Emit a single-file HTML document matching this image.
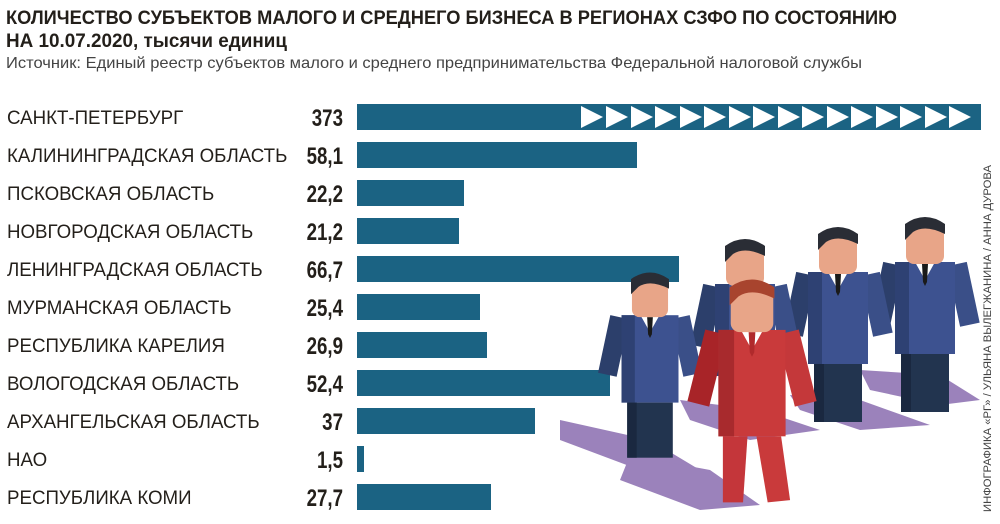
<!DOCTYPE html>
<html><head><meta charset="utf-8"><style>
body{margin:0;width:1000px;height:519px;background:#fff;overflow:hidden;font-family:"Liberation Sans",sans-serif;}
</style></head><body>
<svg width="1000" height="519" viewBox="0 0 1000 519" xmlns="http://www.w3.org/2000/svg">
<defs>
<g id="man">
 <rect x="-42" y="18" width="20" height="62" fill="#2c3f6b" transform="rotate(12 -32 18)"/>
 <rect x="22" y="18" width="20" height="62" fill="#3a4f88" transform="rotate(-12 32 18)"/>
 <rect x="-30" y="16" width="60" height="92" fill="#3d5290"/>
 <rect x="-30" y="16" width="14" height="92" fill="#2e4173"/>
 <polygon points="-10,16 10,16 0,34" fill="#fff"/>
 <polygon points="-3,18 3,18 2,36 0,40 -2,36" fill="#1a1a1a"/>
 <rect x="-24" y="108" width="48" height="58" fill="#22344f"/>
 <rect x="-24" y="108" width="10" height="58" fill="#1a2840"/>
 <rect x="-19" y="-22" width="38" height="40" rx="8" fill="#e8a588"/>
 <path d="M-20,-6 L-20,-22 Q0,-36 20,-22 L20,-12 Q0,-22 -12,-14 Z" fill="#2a2d35"/>
</g>
</defs>
<text x="6" y="24" font-size="19" font-weight="bold" fill="#231f1a" textLength="891" lengthAdjust="spacingAndGlyphs">КОЛИЧЕСТВО СУБЪЕКТОВ МАЛОГО И СРЕДНЕГО БИЗНЕСА В РЕГИОНАХ СЗФО ПО СОСТОЯНИЮ</text>
<text x="6" y="47" font-size="19" font-weight="bold" fill="#231f1a" textLength="281" lengthAdjust="spacingAndGlyphs">НА 10.07.2020, тысячи единиц</text>
<text x="6" y="68" font-size="16" fill="#444" textLength="856" lengthAdjust="spacingAndGlyphs">Источник: Единый реестр субъектов малого и среднего предпринимательства Федеральной налоговой службы</text>

<g fill="#1b6383">
<rect x="357" y="104" width="624" height="26"/>
<rect x="357" y="142" width="280" height="26"/>
<rect x="357" y="180" width="107" height="26"/>
<rect x="357" y="218" width="102" height="26"/>
<rect x="357" y="256" width="322" height="26"/>
<rect x="357" y="294" width="123" height="26"/>
<rect x="357" y="332" width="130" height="26"/>
<rect x="357" y="370" width="253" height="26"/>
<rect x="357" y="408" width="178" height="26"/>
<rect x="357" y="446" width="7" height="26"/>
<rect x="357" y="484" width="134" height="26"/>
</g>
<g fill="#fff">
<polygon points="581,106 603,117 581,128"/><polygon points="606,106 628,117 606,128"/><polygon points="631,106 653,117 631,128"/><polygon points="655,106 677,117 655,128"/><polygon points="680,106 702,117 680,128"/><polygon points="704,106 726,117 704,128"/><polygon points="729,106 751,117 729,128"/><polygon points="753,106 775,117 753,128"/><polygon points="778,106 800,117 778,128"/><polygon points="802,106 824,117 802,128"/><polygon points="827,106 849,117 827,128"/><polygon points="851,106 873,117 851,128"/><polygon points="876,106 898,117 876,128"/><polygon points="900,106 922,117 900,128"/><polygon points="925,106 947,117 925,128"/><polygon points="949,106 971,117 949,128"/>
</g>

<g font-size="19" fill="#231f1a" transform="translate(7,0) scale(0.985,1)">
<text x="0" y="124">САНКТ-ПЕТЕРБУРГ</text>
<text x="0" y="162">КАЛИНИНГРАДСКАЯ ОБЛАСТЬ</text>
<text x="0" y="200">ПСКОВСКАЯ ОБЛАСТЬ</text>
<text x="0" y="238">НОВГОРОДСКАЯ ОБЛАСТЬ</text>
<text x="0" y="276">ЛЕНИНГРАДСКАЯ ОБЛАСТЬ</text>
<text x="0" y="314">МУРМАНСКАЯ ОБЛАСТЬ</text>
<text x="0" y="352">РЕСПУБЛИКА КАРЕЛИЯ</text>
<text x="0" y="390">ВОЛОГОДСКАЯ ОБЛАСТЬ</text>
<text x="0" y="428">АРХАНГЕЛЬСКАЯ ОБЛАСТЬ</text>
<text x="0" y="466">НАО</text>
<text x="0" y="504">РЕСПУБЛИКА КОМИ</text>
</g>
<g font-size="24" font-weight="bold" fill="#231f1a" text-anchor="end" transform="translate(343,0) scale(0.78,1)">
<text x="0" y="126">373</text>
<text x="0" y="164">58,1</text>
<text x="0" y="202">22,2</text>
<text x="0" y="240">21,2</text>
<text x="0" y="278">66,7</text>
<text x="0" y="316">25,4</text>
<text x="0" y="354">26,9</text>
<text x="0" y="392">52,4</text>
<text x="0" y="430">37</text>
<text x="0" y="468">1,5</text>
<text x="0" y="506">27,7</text>
</g>

<g fill="#9b82bb">
<polygon points="560,420 650,440 700,470 640,470 560,440"/>
<polygon points="630,455 710,470 760,505 700,510 620,480"/>
<polygon points="680,400 760,410 820,430 750,440 690,420"/>
<polygon points="790,395 860,400 930,425 860,430 800,410"/>
<polygon points="860,370 940,375 980,400 940,405 870,390"/>
</g>
<use href="#man" transform="translate(925,246)"/>
<use href="#man" transform="translate(838,256)"/>
<use href="#man" transform="translate(745,268)"/>
<use href="#man" transform="translate(650,300) scale(0.95)"/>
<g transform="translate(752,312) scale(1.12)">
 <rect x="-42" y="18" width="20" height="66" fill="#a82428" transform="rotate(14 -32 18)"/>
 <rect x="22" y="18" width="20" height="66" fill="#c4383a" transform="rotate(-14 32 18)"/>
 <rect x="-30" y="16" width="60" height="95" fill="#c93a3b"/>
 <rect x="-30" y="16" width="14" height="95" fill="#a82a2d"/>
 <polygon points="-10,16 10,16 0,34" fill="#fff"/>
 <polygon points="-3,18 3,18 2,36 0,40 -2,36" fill="#b02a2c"/>
 <polygon points="-26,111 -4,111 -8,170 -26,170" fill="#c4363a"/>
 <polygon points="4,111 26,111 34,168 14,170" fill="#c93a3b"/>
 <rect x="-19" y="-22" width="38" height="40" rx="8" fill="#e8a588"/>
 <path d="M-20,-6 L-20,-22 Q0,-36 20,-22 L20,-12 Q0,-22 -12,-14 Z" fill="#a8442e"/>
</g>
<text transform="translate(991,512) rotate(-90)" font-size="11" fill="#444" textLength="347" lengthAdjust="spacingAndGlyphs">ИНФОГРАФИКА «РГ» / УЛЬЯНА ВЫЛЕГЖАНИНА / АННА ДУРОВА</text>
</svg>
</body></html>
